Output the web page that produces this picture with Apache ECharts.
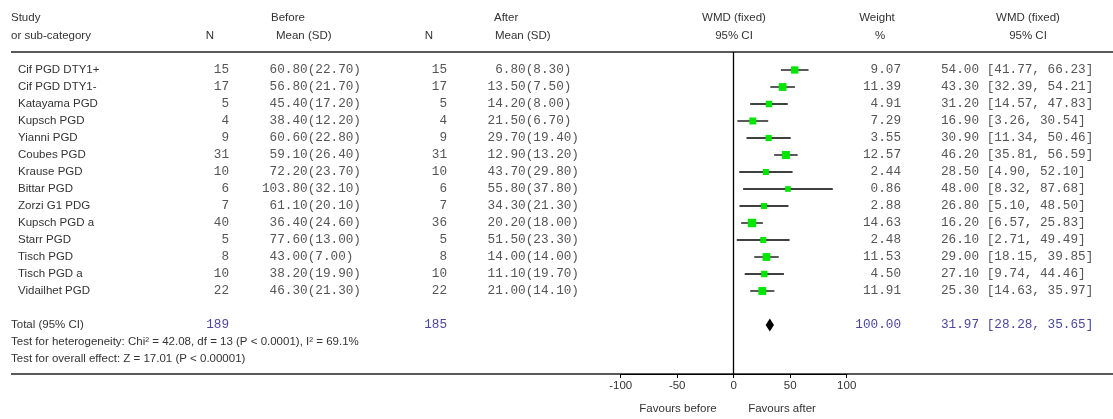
<!DOCTYPE html>
<html>
<head>
<meta charset="utf-8">
<script src="https://cdn.jsdelivr.net/npm/echarts@6/dist/echarts.min.js"></script>
<style>
  html, body { margin: 0; padding: 0; background: #fff; }
  #chart { width: 1113px; height: 419px; }
</style>
</head>
<body>
<div id="chart"></div>
<script>
// Study-level data (weighted mean difference, fixed effect)
const studies = [
  'Cif PGD DTY1+', 'Cif PGD DTY1-', 'Katayama PGD', 'Kupsch PGD', 'Yianni PGD',
  'Coubes PGD', 'Krause PGD', 'Bittar PGD', 'Zorzi G1 PDG', 'Kupsch PGD a',
  'Starr PGD', 'Tisch PGD', 'Tisch PGD a', 'Vidailhet PGD'
];
const nBefore    = [15, 17, 5, 4, 9, 31, 10, 6, 7, 40, 5, 8, 10, 22];
const meanBefore = [60.8, 56.8, 45.4, 38.4, 60.6, 59.1, 72.2, 103.8, 61.1, 36.4, 77.6, 43.0, 38.2, 46.3];
const sdBefore   = [22.7, 21.7, 17.2, 12.2, 22.8, 26.4, 23.7, 32.1, 20.1, 24.6, 13.0, 7.0, 19.9, 21.3];
const nAfter     = [15, 17, 5, 4, 9, 31, 10, 6, 7, 36, 5, 8, 10, 22];
const meanAfter  = [6.8, 13.5, 14.2, 21.5, 29.7, 12.9, 43.7, 55.8, 34.3, 20.2, 51.5, 14.0, 11.1, 21.0];
const sdAfter    = [8.3, 7.5, 8.0, 6.7, 19.4, 13.2, 29.8, 37.8, 21.3, 18.0, 23.3, 14.0, 19.7, 14.1];
const weights    = [9.07, 11.39, 4.91, 7.29, 3.55, 12.57, 2.44, 0.86, 2.88, 14.63, 2.48, 11.53, 4.50, 11.91];
const wmd        = [54.00, 43.30, 31.20, 16.90, 30.90, 46.20, 28.50, 48.00, 26.80, 16.20, 26.10, 29.00, 27.10, 25.30];
const ciLow      = [41.77, 32.39, 14.57, 3.26, 11.34, 35.81, 4.90, 8.32, 5.10, 6.57, 2.71, 18.15, 9.74, 14.63];
const ciHigh     = [66.23, 54.21, 47.83, 30.54, 50.46, 56.59, 52.10, 87.68, 48.50, 25.83, 49.49, 39.85, 44.46, 35.97];

// Pooled result
const totalLabel = 'Total (95% CI)';
const totalN = [189, 185];
const totalWeight = 100.00;
const totalWmd = [31.97, 28.28, 35.65];
const footnotes = [
  'Test for heterogeneity: Chi\u00b2 = 42.08, df = 13 (P < 0.0001), I\u00b2 = 69.1%',
  'Test for overall effect: Z = 17.01 (P < 0.00001)'
];

// Axis
const xTicks = [-100, -50, 0, 50, 100];
const favours = ['Favours before', 'Favours after'];

const SANS_FAMILY = '"Liberation Sans", Arial, sans-serif';
const SANS = '11.5px ' + SANS_FAMILY;
const MONO = '12.7px "Liberation Mono", "Courier New", monospace';
const INK = '#333';
const NUM = '#555';
const POOLED = '#4a46a0';
const ROW_PX = 17;
const TOTAL_ROW = studies.length + 1;

const f2 = v => v.toFixed(2);
const ciText = (e, lo, hi) => f2(e) + ' [' + f2(lo) + ', ' + f2(hi) + ']';

function txt(x, y, text, font, fill, align) {
  return { type: 'text', style: { x: x, y: y, text: text, font: font, fill: fill, align: align || 'left', verticalAlign: 'middle' } };
}

const chart = echarts.init(document.getElementById('chart'), null, { renderer: 'canvas' });

const header = [
  ['Study', 11, 18, 'left'], ['or sub-category', 11, 36, 'left'],
  ['N', 210, 36, 'center'], ['Before', 271, 18, 'left'], ['Mean (SD)', 276, 36, 'left'],
  ['N', 429, 36, 'center'], ['After', 494, 18, 'left'], ['Mean (SD)', 495, 36, 'left'],
  ['WMD (fixed)', 734, 18, 'center'], ['95% CI', 734, 36, 'center'],
  ['Weight', 877, 18, 'center'], ['%', 880, 36, 'center'],
  ['WMD (fixed)', 1028, 18, 'center'], ['95% CI', 1028, 36, 'center']
];

chart.setOption({
  animation: false,
  backgroundColor: '#fff',
  grid: { left: 620.7, right: 266.3, top: 52, bottom: 45 },
  xAxis: {
    type: 'value', min: xTicks[0], max: xTicks[xTicks.length - 1], interval: 50,
    axisLine: { show: true, onZero: false, lineStyle: { color: '#000', width: 1 } },
    axisTick: { show: true, length: 4, lineStyle: { color: '#000' } },
    axisLabel: { color: INK, fontSize: 11.5, fontFamily: SANS_FAMILY, margin: 6 },
    splitLine: { show: false }
  },
  yAxis: {
    type: 'value', inverse: true, min: -18 / ROW_PX, max: -18 / ROW_PX + 322 / ROW_PX,
    show: false
  },
  graphic: [
    ...header.map(h => txt(h[1], h[2], h[0], SANS, INK, h[3])),
    { type: 'line', shape: { x1: 11, y1: 52, x2: 1113, y2: 52 }, style: { stroke: '#222', lineWidth: 1.5 } },
    { type: 'line', shape: { x1: 11, y1: 374, x2: 1113, y2: 374 }, style: { stroke: '#222', lineWidth: 1.5 } },
    txt(678, 409, favours[0], SANS, INK, 'center'),
    txt(782, 409, favours[1], SANS, INK, 'center')
  ],
  series: [
    {
      // study rows of the table
      type: 'custom',
      data: studies.map((s, i) => [0, i]),
      renderItem: function (params, api) {
        const i = api.value(1);
        const y = api.coord([0, i])[1];
        return {
          type: 'group',
          children: [
            txt(18, y, studies[i], SANS, INK),
            txt(229, y, String(nBefore[i]), MONO, NUM, 'right'),
            txt(262, y, f2(meanBefore[i]).padStart(6, ' ') + '(' + f2(sdBefore[i]) + ')', MONO, NUM),
            txt(447, y, String(nAfter[i]), MONO, NUM, 'right'),
            txt(480, y, f2(meanAfter[i]).padStart(6, ' ') + '(' + f2(sdAfter[i]) + ')', MONO, NUM),
            txt(901, y, f2(weights[i]), MONO, NUM, 'right'),
            txt(941, y, ciText(wmd[i], ciLow[i], ciHigh[i]), MONO, NUM)
          ]
        };
      }
    },
    {
      // pooled row and test statistics
      type: 'custom',
      data: [[0, TOTAL_ROW]],
      renderItem: function (params, api) {
        const y = api.coord([0, api.value(1)])[1];
        const y1 = api.coord([0, api.value(1) + 1])[1];
        const y2 = api.coord([0, api.value(1) + 2])[1];
        return {
          type: 'group',
          children: [
            txt(11, y, totalLabel, SANS, INK),
            txt(229, y, String(totalN[0]), MONO, POOLED, 'right'),
            txt(447, y, String(totalN[1]), MONO, POOLED, 'right'),
            txt(901, y, f2(totalWeight), MONO, POOLED, 'right'),
            txt(941, y, ciText(totalWmd[0], totalWmd[1], totalWmd[2]), MONO, POOLED),
            txt(11, y1, footnotes[0], SANS, INK),
            txt(11, y2, footnotes[1], SANS, INK)
          ]
        };
      }
    },
    {
      // confidence intervals and weighted squares
      type: 'custom',
      data: studies.map((s, i) => [wmd[i], i, ciLow[i], ciHigh[i], weights[i]]),
      encode: { x: 0, y: 1 },
      renderItem: function (params, api) {
        const p = api.coord([api.value(0), api.value(1)]);
        const lo = api.coord([api.value(2), api.value(1)]);
        const hi = api.coord([api.value(3), api.value(1)]);
        const s = 5.5 + 0.2 * api.value(4);
        return {
          type: 'group',
          children: [
            { type: 'line', shape: { x1: lo[0], y1: p[1], x2: hi[0], y2: p[1] }, style: { stroke: '#000', lineWidth: 1.3 } },
            { type: 'rect', shape: { x: p[0] - s / 2, y: p[1] - s / 2, width: s, height: s }, style: { fill: '#00e600' } }
          ]
        };
      },
      markLine: {
        silent: true, symbol: 'none', animation: false,
        label: { show: false },
        lineStyle: { color: '#000', type: 'solid', width: 1.3 },
        data: [{ xAxis: 0 }]
      }
    },
    {
      // pooled diamond
      type: 'custom',
      data: [[totalWmd[0], TOTAL_ROW, totalWmd[1], totalWmd[2]]],
      encode: { x: 0, y: 1 },
      renderItem: function (params, api) {
        const p = api.coord([api.value(0), api.value(1)]);
        const lo = api.coord([api.value(2), api.value(1)]);
        const hi = api.coord([api.value(3), api.value(1)]);
        return {
          type: 'polygon',
          shape: { points: [[lo[0], p[1]], [p[0], p[1] - 6.5], [hi[0], p[1]], [p[0], p[1] + 6.5]] },
          style: { fill: '#000' }
        };
      }
    }
  ]
});
</script>
</body>
</html>
